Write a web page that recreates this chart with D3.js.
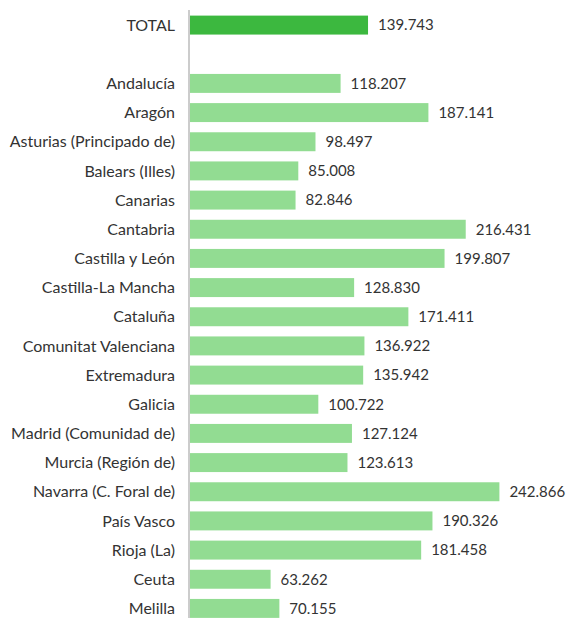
<!DOCTYPE html>
<html>
<head>
<meta charset="utf-8">
<script src="https://cdn.jsdelivr.net/npm/d3@7"></script>
<style>
  body { margin: 0; background: #fff; }
  text { font-family: Lato, "Open Sans", sans-serif; fill: #333; }
  text.cat { font-size: 16px; }
  text.val { font-size: 15px; }
</style>
</head>
<body>
<svg id="chart" width="571" height="618"></svg>
<script>
// Spanish regions, one value each; TOTAL shown on top with a blank slot below
const regions = ["Andalucía", "Aragón", "Asturias (Principado de)", "Balears (Illes)", "Canarias",
  "Cantabria", "Castilla y León", "Castilla-La Mancha", "Cataluña", "Comunitat Valenciana",
  "Extremadura", "Galicia", "Madrid (Comunidad de)", "Murcia (Región de)", "Navarra (C. Foral de)",
  "País Vasco", "Rioja (La)", "Ceuta", "Melilla"];
const values = [118.207, 187.141, 98.497, 85.008, 82.846, 216.431, 199.807, 128.830, 171.411,
  136.922, 135.942, 100.722, 127.124, 123.613, 242.866, 190.326, 181.458, 63.262, 70.155];
const totalLabel = "TOTAL";
const totalValue = 139.743;

const rows = [{ name: totalLabel, value: totalValue, total: true }, { name: "", value: null }]
  .concat(regions.map((r, i) => ({ name: r, value: values[i], total: false })));

const svg = d3.select("#chart");
const x0 = 190;

const x = d3.scaleLinear().domain([0, 242.866]).range([x0, 499.4]);
const y = d3.scaleBand()
  .domain(d3.range(rows.length))
  .range([10.5, 623])
  .paddingInner(0.35)
  .paddingOuter(0.175);

const fmt = v => v.toFixed(3);

// vertical axis line
svg.append("line")
  .attr("x1", x0 - 1).attr("x2", x0 - 1)
  .attr("y1", 10).attr("y2", 618)
  .attr("stroke", "#999").attr("stroke-width", 1);

const data = rows.map((d, i) => ({ ...d, i })).filter(d => d.value != null);

svg.selectAll("rect.bar")
  .data(data)
  .join("rect")
    .attr("class", "bar")
    .attr("x", x0)
    .attr("y", d => y(d.i))
    .attr("width", d => x(d.value) - x0)
    .attr("height", y.bandwidth())
    .attr("fill", d => d.total ? "#3cb83f" : "#92dc92");

svg.selectAll("text.cat")
  .data(data)
  .join("text")
    .attr("class", "cat")
    .attr("x", 175)
    .attr("y", d => y(d.i) + y.bandwidth() / 2)
    .attr("dy", "0.35em")
    .attr("text-anchor", "end")
    .text(d => d.name);

svg.selectAll("text.val")
  .data(data)
  .join("text")
    .attr("class", "val")
    .attr("x", d => x(d.value) + 10)
    .attr("y", d => y(d.i) + y.bandwidth() / 2)
    .attr("dy", "0.35em")
    .text(d => fmt(d.value));
</script>
</body>
</html>
